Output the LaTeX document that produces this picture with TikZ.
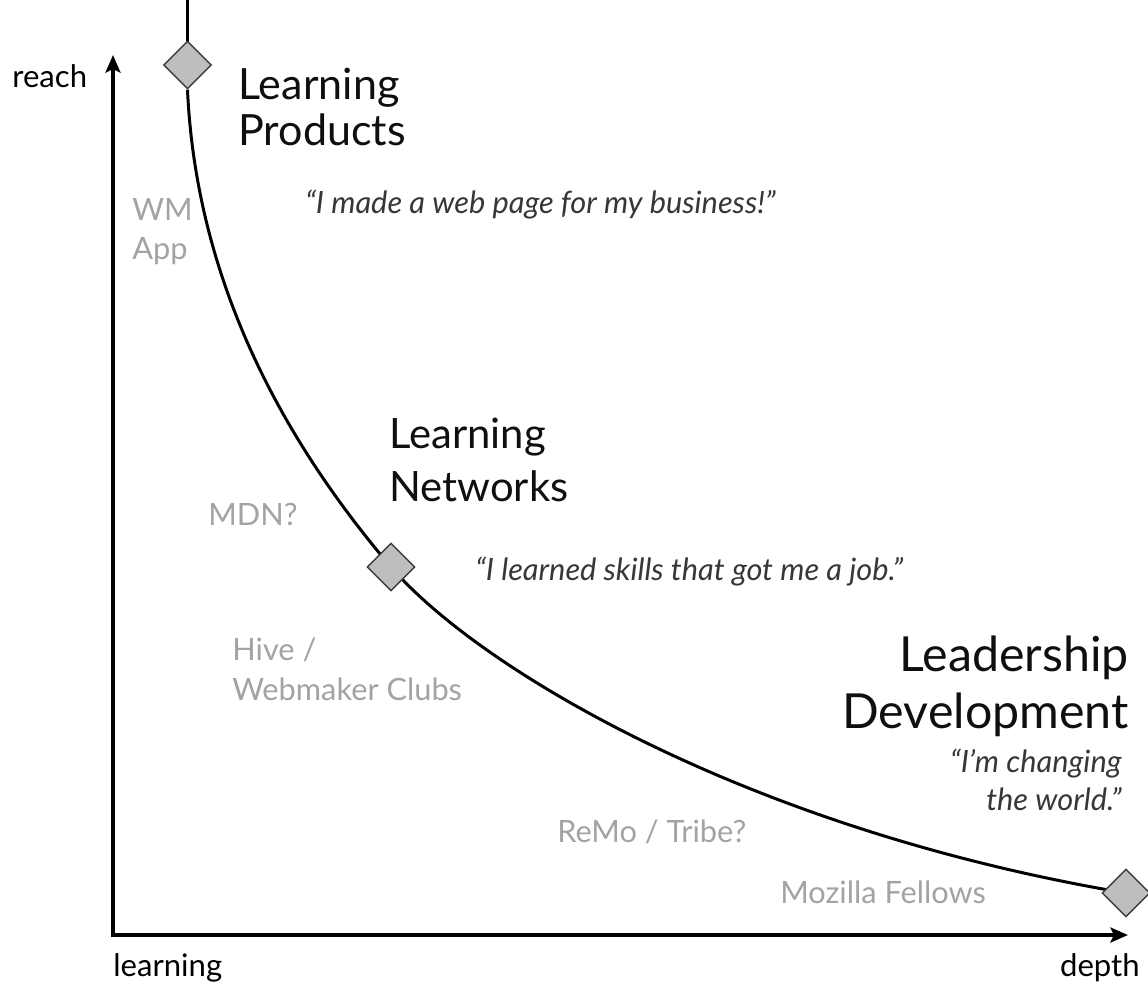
\documentclass[tikz,border=0pt]{standalone}
\usepackage{fontspec}
\setmainfont{Lato}
\usetikzlibrary{shapes.geometric,arrows.meta,backgrounds}
\definecolor{labelgray}{RGB}{163,163,163}
\definecolor{quotegray}{RGB}{55,55,55}
\definecolor{headink}{RGB}{15,15,15}
\definecolor{markfill}{RGB}{190,190,190}
\definecolor{markedge}{RGB}{60,60,60}
\begin{document}
\begin{tikzpicture}[x=0.02cm,y=-0.02cm,
  milestone/.style={diamond, draw=markedge, fill=markfill, line width=0.8pt,
    minimum width=0.96cm, minimum height=0.96cm, inner sep=0pt},
  axisline/.style={line width=2pt, line join=miter,
    {Stealth[length=10pt,width=8.5pt,inset=2pt]}-{Stealth[length=10pt,width=8.5pt,inset=2pt]}},
  curveline/.style={line width=1.7pt},
  txt/.style={inner sep=0pt},
  headA/.style={txt, text=headink, font=\fontsize{24.5}{29}\selectfont},
  headB/.style={txt, text=headink, font=\fontsize{23.8}{29}\selectfont},
  headC/.style={txt, text=headink, font=\fontsize{27.5}{33}\selectfont},
  quote/.style={txt, text=quotegray, font=\fontsize{17.5}{21}\selectfont\itshape},
  example/.style={txt, text=labelgray, font=\fontsize{17.5}{21}\selectfont},
  axislabel/.style={txt, text=black, font=\fontsize{17.7}{21}\selectfont}
]
\useasboundingbox (0,0) rectangle (1148,983);

% milestones on the curve
\node[milestone] (m1) at (187.5,65) {};
\node[milestone] (m2) at (391,567) {};
\node[milestone] (m3) at (1126,893) {};
\coordinate (topend) at (187.5,-5);

% axes
\coordinate (origin) at (113,935);
\coordinate (ytip) at (113,55);
\coordinate (xtip) at (1128,935);
\draw[axisline] (ytip) -- (origin) -- (xtip);

% the curve runs underneath the milestones
\begin{scope}[on background layer]
  \fill[white] (0,0) rectangle (1148,983);
  \draw[curveline] (topend) -- (m1.center);
  \draw[curveline] (m1.south) .. controls (197,300) and (300,460) .. (m2.center)
    .. controls (480,670) and (750,830) .. (m3.center);
\end{scope}

% axis labels
\node[axislabel, anchor=base west] (reach) at (12,88) {reach};
\node[axislabel, anchor=base west] (learn) at (113,976) {learning};
\node[axislabel, anchor=base east] (depth) at (1140,976) {depth};

% stage headings
\node[headA, anchor=base west] (lp1) at (238,100) {Learning};
\node[headA, anchor=base west] (lp2) at (238,146) {Products};
\node[headB, anchor=base west] (ln1) at (389,448) {Learning};
\node[headB, anchor=base west] (ln2) at (389,501) {Networks};
\node[headC, anchor=base east] (ld1) at (1129,671) {Leadership};
\node[headC, anchor=base east] (ld2) at (1129,728) {Development};

% quotes
\node[quote, anchor=base west] (q1) at (305,214) {“I made a web page for my business!”};
\node[quote, anchor=base west] (q2) at (475,580) {“I learned skills that got me a job.”};
\node[quote, anchor=base east] (q3a) at (1122,772) {“I’m changing};
\node[quote, anchor=base east] (q3b) at (1122,810) {the world.”};

% examples
\node[example, anchor=base west] (wm1) at (132,220) {WM};
\node[example, anchor=base west] (wm2) at (132,259) {App};
\node[example, anchor=base west] (mdn) at (208,525) {MDN?};
\node[example, anchor=base west] (hv1) at (232,660) {Hive /};
\node[example, anchor=base west] (hv2) at (232,700) {Webmaker Clubs};
\node[example, anchor=base west] (remo) at (557,842) {ReMo / Tribe?};
\node[example, anchor=base west] (fell) at (780,903) {Mozilla Fellows};
\end{tikzpicture}
\end{document}
